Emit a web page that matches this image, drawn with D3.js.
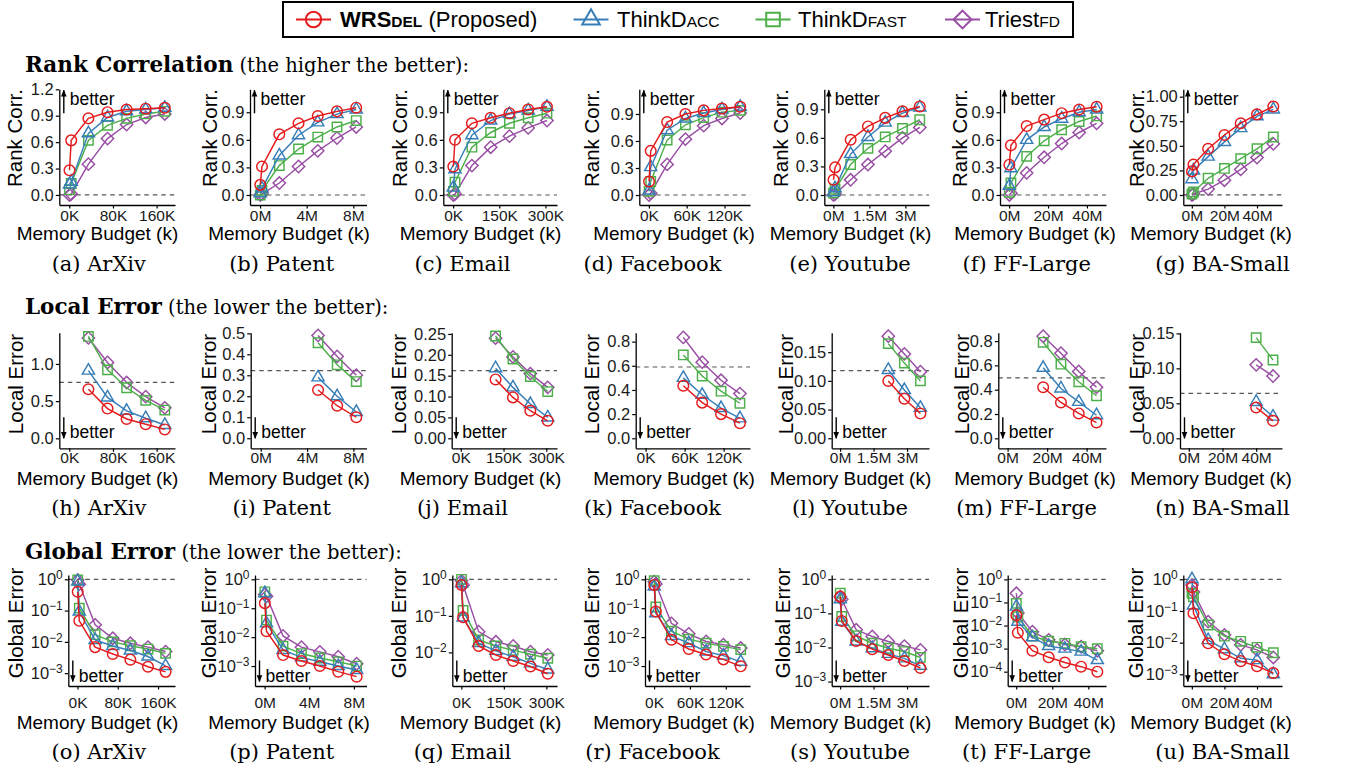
<!DOCTYPE html>
<html><head><meta charset="utf-8">
<script src="https://cdn.jsdelivr.net/npm/d3@7"></script>
<style>html,body{margin:0;padding:0;background:#fff;}svg{display:block;}</style>
</head><body>
<svg id="chart" width="1350" height="769"></svg>
<script>
// ---------------- DATA ----------------
const methodMain = ["WRS", "ThinkD", "ThinkD", "Triest"];
const methodSub = ["DEL", "ACC", "FAST", "FD"];
const datasetNames = ["ArXiv", "Patent", "Email", "Facebook", "Youtube", "FF-Large", "BA-Small"];
const panelLetters = ["a","b","c","d","e","f","g","h","i","j","k","l","m","n","o","p","q","r","s","t","u"];

// memory budgets (K for ArXiv/Email/Facebook, M for the others)
const budgetArXiv = [0.35, 3.5, 35, 70, 105, 140, 175];
const budgetPatent = [0.0165, 0.165, 1.65, 3.3, 4.95, 6.6, 8.25];
const budgetEmail = [0.61, 6.1, 61, 122, 183, 244, 305];
const budgetFacebook = [0.29, 2.9, 29, 58, 87, 116, 145];
const budgetYoutube = [0.0072, 0.072, 0.72, 1.44, 2.16, 2.88, 3.6];
const budgetFFLarge = [0.09, 0.9, 9, 18, 27, 36, 45];
const budgetBASmall = [0.1, 1, 10, 20, 30, 40, 50];

const xTickValues = [[0, 80, 160], [0, 4, 8], [0, 150, 300], [0, 60, 120], [0, 1.5, 3], [0, 20, 40], [0, 20, 40]];
const xTickUnits = ["K", "M", "K", "K", "M", "M", "M"];

// series order: WRSdel, ThinkDacc, ThinkDfast, TriestFD
const rankArXiv = [[0.28,0.62,0.87,0.94,0.97,0.98,0.99],[0.12,0.15,0.70,0.88,0.95,0.97,0.99],[0.06,0.13,0.62,0.79,0.87,0.92,0.95],[0.0,0.01,0.35,0.64,0.80,0.88,0.92]];
const rankPatent = [[0.11,0.31,0.66,0.78,0.86,0.91,0.95],[0.02,0.07,0.43,0.65,0.79,0.88,0.93],[0.0,0.05,0.32,0.50,0.63,0.74,0.81],[0.0,0.01,0.13,0.31,0.48,0.62,0.74]];
const rankEmail = [[0.31,0.60,0.78,0.84,0.89,0.93,0.96],[0.08,0.28,0.65,0.81,0.88,0.92,0.96],[0.04,0.14,0.52,0.68,0.78,0.84,0.89],[0.0,0.01,0.32,0.52,0.64,0.73,0.81]];
const rankFacebook = [[0.15,0.49,0.81,0.90,0.94,0.96,0.98],[0.05,0.31,0.72,0.85,0.91,0.95,0.98],[0.04,0.15,0.61,0.78,0.86,0.92,0.94],[0.0,0.02,0.34,0.62,0.77,0.85,0.91]];
const rankYoutube = [[0.16,0.29,0.58,0.72,0.81,0.88,0.93],[0.03,0.07,0.43,0.61,0.76,0.86,0.92],[0.02,0.06,0.32,0.49,0.61,0.70,0.79],[0.0,0.01,0.16,0.32,0.46,0.60,0.71]];
const rankFFLarge = [[0.33,0.54,0.75,0.82,0.89,0.93,0.96],[0.10,0.29,0.60,0.74,0.83,0.90,0.93],[0.03,0.13,0.42,0.59,0.71,0.80,0.86],[0.0,0.02,0.24,0.41,0.56,0.68,0.78]];
const rankBASmall = [[0.24,0.31,0.47,0.61,0.73,0.82,0.90],[0.16,0.25,0.39,0.54,0.68,0.80,0.87],[0.01,0.03,0.17,0.27,0.37,0.47,0.59],[0.0,0.01,0.06,0.15,0.26,0.38,0.52]];

const localArXiv = [[null,null,0.66,0.40,0.26,0.19,0.12],[null,null,0.91,0.55,0.37,0.27,0.18],[null,null,1.37,0.92,0.68,0.51,0.38],[null,null,1.35,1.02,0.75,0.56,0.41]];
const localPatent = [[null,null,null,null,0.23,0.155,0.10],[null,null,null,null,0.29,0.20,0.125],[null,null,null,null,0.455,0.35,0.27],[null,null,null,null,0.49,0.39,0.30]];
const localEmail = [[null,null,null,0.141,0.098,0.066,0.042],[null,null,null,0.168,0.122,0.082,0.05],[null,null,null,0.245,0.19,0.148,0.112],[null,null,null,0.24,0.195,0.155,0.122]];
const localFacebook = [[null,null,null,0.435,0.295,0.20,0.125],[null,null,null,0.50,0.36,0.25,0.165],[null,null,null,0.69,0.515,0.39,0.29],[null,null,null,0.835,0.63,0.48,0.37]];
const localYoutube = [[null,null,null,null,0.10,0.069,0.043],[null,null,null,null,0.119,0.084,0.053],[null,null,null,null,0.165,0.131,0.10],[null,null,null,null,0.178,0.147,0.116]];
const localFFLarge = [[null,null,null,0.42,0.295,0.205,0.13],[null,null,null,0.58,0.41,0.30,0.19],[null,null,null,0.79,0.61,0.465,0.35],[null,null,null,0.84,0.70,0.55,0.42]];
const localBASmall = [[null,null,null,null,null,0.044,0.025],[null,null,null,null,null,0.052,0.031],[null,null,null,null,null,0.144,0.112],[null,null,null,null,null,0.105,0.089]];
const localReference = [0.753, 0.322, 0.162, 0.59, 0.118, 0.498, 0.0643];

const globalArXiv = [[0.40,0.047,0.0068,0.0041,0.0027,0.0016,0.0011],[0.85,0.093,0.0115,0.0074,0.0053,0.0034,0.0017],[0.95,0.12,0.017,0.010,0.0075,0.0059,0.0043],[0.95,0.7,0.035,0.013,0.009,0.0068,0.0049]];
const globalPatent = [[0.15,0.016,0.0024,0.0015,0.001,0.00064,0.00043],[0.33,0.03,0.0036,0.002,0.0014,0.001,0.00073],[0.37,0.039,0.0049,0.0027,0.0019,0.0014,0.001],[0.30,0.26,0.011,0.0045,0.0031,0.0021,0.0012]];
const globalEmail = [[0.70,0.091,0.015,0.0085,0.0058,0.0041,0.0026],[0.78,0.09,0.018,0.011,0.0076,0.005,0.0034],[1.0,0.14,0.022,0.015,0.0115,0.0089,0.0069],[0.92,0.7,0.037,0.0195,0.015,0.0104,0.0085]];
const globalFacebook = [[0.64,0.077,0.0081,0.0039,0.0025,0.0017,0.00098],[0.56,0.067,0.011,0.0062,0.0032,0.0023,0.0014],[0.9,0.11,0.016,0.0085,0.0062,0.0048,0.0037],[0.83,0.69,0.030,0.013,0.0071,0.0055,0.0042]];
const globalYoutube = [[0.31,0.06,0.0155,0.0089,0.006,0.004,0.0025],[0.26,0.057,0.015,0.0095,0.0065,0.0048,0.0029],[0.39,0.081,0.022,0.0133,0.0095,0.0076,0.0051],[0.31,0.26,0.033,0.021,0.015,0.011,0.0085]];
const globalFFLarge = [[0.028,0.0049,0.00081,0.00042,0.00025,0.000165,0.0001],[0.066,0.0147,0.0031,0.0013,0.001,0.00074,0.00032],[0.091,0.024,0.0035,0.0021,0.0017,0.0012,0.001],[0.25,0.035,0.0054,0.0024,0.0015,0.0012,0.00081]];
const globalBASmall = [[0.56,0.085,0.0095,0.0043,0.0026,0.0018,0.0011],[1.0,0.15,0.012,0.0062,0.0032,0.0028,0.001],[0.36,0.28,0.036,0.016,0.011,0.0071,0.0048],[0.66,0.4,0.046,0.0175,0.0085,0.0059,0.0034]];

const rankYTicks = [[0,0.3,0.6,0.9,1.2],[0,0.3,0.6,0.9],[0,0.3,0.6,0.9],[0,0.3,0.6,0.9],[0,0.3,0.6,0.9],[0,0.3,0.6,0.9],[0,0.25,0.5,0.75,1]];
const localYTicks = [[0,0.5,1.0],[0,0.1,0.2,0.3,0.4,0.5],[0,0.05,0.1,0.15,0.2,0.25],[0,0.2,0.4,0.6,0.8],[0,0.05,0.1,0.15],[0,0.2,0.4,0.6,0.8],[0,0.05,0.1,0.15]];
const globalYTicks = [[1,0.1,0.01,0.001],[1,0.1,0.01,0.001],[1,0.1,0.01],[1,0.1,0.01,0.001],[1,0.1,0.01,0.001],[1,0.1,0.01,0.001,0.0001],[1,0.1,0.01,0.001]];
const rankYDecimals = [1,1,1,1,1,1,2];
const localYDecimals = [1,1,2,1,2,1,2];

// ---------------- LAYOUT / STYLE ----------------
const budgets = [budgetArXiv, budgetPatent, budgetEmail, budgetFacebook, budgetYoutube, budgetFFLarge, budgetBASmall];
const rankData = [rankArXiv, rankPatent, rankEmail, rankFacebook, rankYoutube, rankFFLarge, rankBASmall];
const localData = [localArXiv, localPatent, localEmail, localFacebook, localYoutube, localFFLarge, localBASmall];
const globalData = [globalArXiv, globalPatent, globalEmail, globalFacebook, globalYoutube, globalFFLarge, globalBASmall];

const colors = ["#E41A1C", "#377EB8", "#4DAF4A", "#984EA3"];
const shapes = ["circle", "triangle", "square", "diamond"];
const sans = "'Liberation Sans', Arial, Helvetica, sans-serif";
const serif = "'DejaVu Serif', 'Liberation Serif', serif";

const colRight = [175, 366.5, 557, 750, 929, 1106, 1282];
const titleCenters = [97.5, 289, 480.5, 674, 850.5, 1035, 1211];
const captionCenters = [98.8, 281.7, 462.5, 652.5, 850, 1026.7, 1222.5];

const rows = [
  {key: "rank", data: rankData, yTicks: rankYTicks, dec: rankYDecimals,
   yDom: [[-0.114,1.2],[-0.109,1.15],[-0.109,1.15],[-0.111,1.174],[-0.105,1.11],[-0.109,1.15],[-0.102,1.075]],
   left: [59.3,250,443.3,639.3,824.3,1000,1183.3], top: 89.3, bottom: 205, tickPad: 1.5,
   titleY: 240, captionY: 271, yTitle: "Rank Corr.", yTitleY: 138,
   yTitleX: [22,217,407,599,788,967,1144], head: ["Rank Correlation", " (the higher the better):"], headY: 72, up: true},
  {key: "local", data: localData, yTicks: localYTicks, dec: localYDecimals,
   yDom: [[-0.134,1.42],[-0.048,0.503],[-0.024,0.253],[-0.083,0.874],[-0.0175,0.184],[-0.082,0.869],[-0.0143,0.151]],
   left: [59.3,250.7,451.7,635.7,831.7,998.3,1180], top: 332.7, bottom: 448.3, tickPad: 0.5,
   titleY: 485, captionY: 515, yTitle: "Local Error", yTitleY: 384,
   yTitleX: [23,215.5,405.5,598.5,793,968.5,1143.5], head: ["Local Error", " (the lower the better):"], headY: 314, up: false, betterOff: 10},
  {key: "global", data: globalData, yTicks: globalYTicks, log: true,
   yDom: [[-3.41,0.137],[-3.69,0.149],[-2.92,0.118],[-3.69,0.149],[-3.13,0.126],[-4.62,0.19],[-3.37,0.136]],
   left: [68.3,255,452.3,645,831.7,1007.7,1183.3], top: 575, bottom: 686, tickPad: 7,
   titleY: 729, captionY: 759, yTitle: "Global Error", yTitleY: 623,
   yTitleX: [23,215.5,405.5,598.5,790,968,1143], head: ["Global Error", " (the lower the better):"], headY: 559, up: false, betterOff: 4.5}
];

const svg = d3.select("#chart");
svg.append("rect").attr("width", 1350).attr("height", 769).attr("fill", "#fff");
const defs = svg.append("defs");
defs.append("marker").attr("id", "ah").attr("viewBox", "0 0 10 10").attr("refX", 9).attr("refY", 5)
  .attr("markerWidth", 7).attr("markerHeight", 7).attr("markerUnits", "userSpaceOnUse").attr("orient", "auto")
  .append("path").attr("d", "M0,1L10,5L0,9Z").attr("fill", "#000");

function drawMarker(g, shape, color, cx, cy, s) {
  let el;
  if (shape === "circle") {
    el = g.append("circle").attr("cx", cx).attr("cy", cy).attr("r", 5.3 * s);
  } else if (shape === "triangle") {
    el = g.append("path").attr("d", d3.symbol(d3.symbolTriangle, 64 * s * s)()).attr("transform", `translate(${cx},${cy})`);
  } else if (shape === "square") {
    el = g.append("path").attr("d", d3.symbol(d3.symbolSquare, 88 * s * s)()).attr("transform", `translate(${cx},${cy})`);
  } else {
    el = g.append("path").attr("d", d3.symbol(d3.symbolSquare, 76 * s * s)()).attr("transform", `translate(${cx},${cy}) rotate(45)`);
  }
  el.attr("fill", "none").attr("stroke", color).attr("stroke-width", 1.45);
}

rows.forEach((row, ri) => {
  const ht = svg.append("text").attr("x", 25).attr("y", row.headY).attr("font-family", serif).attr("fill", "#000");
  ht.append("tspan").attr("font-weight", "bold").attr("font-size", "21.5px").text(row.head[0]);
  ht.append("tspan").attr("font-size", "19.5px").text(row.head[1]);

  for (let c = 0; c < 7; c++) {
    const g = svg.append("g");
    const b = budgets[c];
    const bmin = d3.min(b), bmax = d3.max(b), w = bmax - bmin;
    const x = d3.scaleLinear().domain([bmin - 0.107 * w, bmax + 0.107 * w]).range([row.left[c], colRight[c]]);
    const y = row.log
      ? d3.scaleLog().domain([Math.pow(10, row.yDom[c][0]), Math.pow(10, row.yDom[c][1])]).range([row.bottom, row.top])
      : d3.scaleLinear().domain(row.yDom[c]).range([row.bottom, row.top]);

    const ref = row.key === "rank" ? 0 : row.key === "local" ? localReference[c] : 1;
    g.append("line").attr("x1", row.left[c]).attr("x2", colRight[c]).attr("y1", y(ref)).attr("y2", y(ref))
      .attr("stroke", "#555").attr("stroke-width", 1.2).attr("stroke-dasharray", "4.5,4");

    const xAxis = d3.axisBottom(x).tickValues(xTickValues[c]).tickFormat(d => d + xTickUnits[c])
      .tickSize(3.5).tickSizeOuter(0).tickPadding(row.tickPad);
    const gx = g.append("g").attr("transform", `translate(0,${row.bottom})`).call(xAxis);
    let yAxis = d3.axisLeft(y).tickValues(row.yTicks[c]).tickSize(3.5).tickSizeOuter(0).tickPadding(2);
    if (!row.log) yAxis = yAxis.tickFormat(d3.format("." + row.dec[c] + "f"));
    const gy = g.append("g").attr("transform", `translate(${row.left[c]},0)`).call(yAxis);
    [gx, gy].forEach(a => {
      a.select(".domain").attr("stroke", "#000").attr("stroke-width", 1.3);
      a.selectAll(".tick line").attr("stroke", "#000").attr("stroke-width", 1.2);
      a.selectAll(".tick text").attr("font-family", sans).attr("fill", "#1a1a1a");
    });
    gx.selectAll(".tick text").attr("font-size", "15.5px");
    gy.selectAll(".tick text").attr("font-size", "16.5px");
    if (row.log) {
      gy.selectAll(".tick text").each(function(d) {
        const e = Math.round(Math.log10(d));
        const t = d3.select(this);
        t.text(null);
        t.append("tspan").text("10");
        t.append("tspan").attr("dy", "-0.5em").attr("font-size", "12px").text(e === 0 ? "0" : "\u2212" + (-e));
      });
    }

    const bx = row.left[c] + 4.5;
    if (row.up) {
      g.append("line").attr("x1", bx).attr("x2", bx).attr("y1", row.top + 24).attr("y2", row.top + 1)
        .attr("stroke", "#000").attr("stroke-width", 1.4).attr("marker-end", "url(#ah)");
      g.append("text").attr("x", row.left[c] + 10.5).attr("y", row.top + 16).attr("font-family", sans)
        .attr("font-size", "17.5px").attr("fill", "#000").text("better");
    } else {
      const by = row.bottom - row.betterOff;
      g.append("line").attr("x1", bx).attr("x2", bx).attr("y1", by - 21).attr("y2", by)
        .attr("stroke", "#000").attr("stroke-width", 1.4).attr("marker-end", "url(#ah)");
      g.append("text").attr("x", row.left[c] + 10.5).attr("y", by).attr("font-family", sans)
        .attr("font-size", "17.5px").attr("fill", "#000").text("better");
    }

    const series = row.data[c];
    [3, 2, 1, 0].forEach(si => {
      const pts = b.map((bv, i) => ({x: bv, y: series[si][i]})).filter(p => p.y !== null);
      const line = d3.line().x(p => x(p.x)).y(p => y(p.y));
      g.append("path").attr("d", line(pts)).attr("fill", "none").attr("stroke", colors[si]).attr("stroke-width", 1.45);
      pts.forEach(p => drawMarker(g, shapes[si], colors[si], x(p.x), y(p.y), 1));
    });

    g.append("text").attr("x", titleCenters[c]).attr("y", row.titleY).attr("text-anchor", "middle")
      .attr("font-family", sans).attr("font-size", "19px").attr("fill", "#000").text("Memory Budget (k)");
    g.append("text").attr("transform", `translate(${row.yTitleX[c]},${row.yTitleY}) rotate(-90)`)
      .attr("text-anchor", "middle").attr("font-family", sans).attr("font-size", "20.5px").attr("fill", "#000").text(row.yTitle);
    g.append("text").attr("x", captionCenters[c]).attr("y", row.captionY).attr("text-anchor", "middle")
      .attr("font-family", serif).attr("font-size", "21px").attr("fill", "#000")
      .text("(" + panelLetters[ri * 7 + c] + ") " + datasetNames[c]);
  }
});

// legend
const lg = svg.append("g");
lg.append("rect").attr("x", 283).attr("y", 2).attr("width", 790).attr("height", 35)
  .attr("fill", "#fff").attr("stroke", "#000").attr("stroke-width", 2);
const legendCx = [313.5, 591, 773, 962.5];
const legendTx = [340, 617, 798, 985];
for (let i = 0; i < 4; i++) {
  lg.append("line").attr("x1", legendCx[i] - 17.5).attr("x2", legendCx[i] + 17.5).attr("y1", 19.5).attr("y2", 19.5)
    .attr("stroke", colors[i]).attr("stroke-width", 2.2);
  drawMarker(lg, shapes[i], colors[i], legendCx[i], 19.5, 1.45);
  lg.selectAll("circle, path").attr("stroke-width", 2);
  const t = lg.append("text").attr("x", legendTx[i]).attr("y", 27).attr("font-family", sans).attr("fill", "#000");
  t.append("tspan").attr("font-size", "22px").attr("font-weight", i === 0 ? "bold" : "normal").text(methodMain[i]);
  t.append("tspan").attr("font-size", "15.5px").attr("font-weight", i === 0 ? "bold" : "normal").text(methodSub[i]);
  if (i === 0) t.append("tspan").attr("font-size", "22px").text(" (Proposed)");
}
</script>
</body></html>
